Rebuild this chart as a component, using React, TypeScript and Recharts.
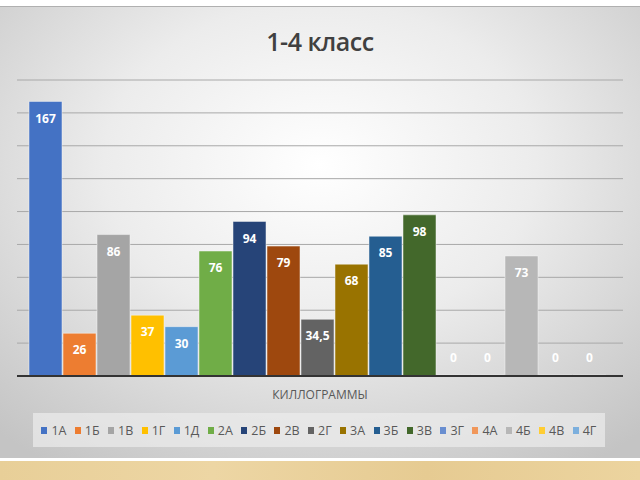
import { BarChart, Bar, XAxis, YAxis, CartesianGrid, LabelList } from "recharts";

const classes = ["1А", "1Б", "1В", "1Г", "1Д", "2А", "2Б", "2В", "2Г", "3А", "3Б", "3В", "3Г", "4А", "4Б", "4В", "4Г"];
const kilograms = [167, 26, 86, 37, 30, 76, 94, 79, 34.5, 68, 85, 98, 0, 0, 73, 0, 0];
const colors = [
  "#4472C4", "#ED7D31", "#A5A5A5", "#FFC000", "#5B9BD5", "#70AD47",
  "#264478", "#9E480E", "#636363", "#997300", "#255E91", "#43682B",
  "#698ED0", "#F1975A", "#B7B7B7", "#FFCD33", "#7CAFDD",
];
const category = "КИЛЛОГРАММЫ";
const yTicks = [0, 20, 40, 60, 80, 100, 120, 140, 160, 180];

const row: Record<string, string | number> = { name: category };
classes.forEach((c, i) => {
  row[c] = kilograms[i];
});
const data = [row];

const renderLabel = (props: any) => {
  const { x, y, width, height, value } = props;
  // zero bars: label sits just above the axis line
  const cy = value === 0 ? y + height - 17 : y + 18;
  return (
    <text
      x={x + width / 2}
      y={cy}
      textAnchor="middle"
      dominantBaseline="middle"
      fill="#ffffff"
      fontSize={12}
      fontWeight="bold"
      fontFamily="'Open Sans', sans-serif"
    >
      {String(value).replace(".", ",")}
    </text>
  );
};

export default function App() {
  return (
    <div
      style={{
        position: "absolute",
        left: 0,
        top: 0,
        width: 640,
        height: 480,
        background: "#ffffff",
        fontFamily: "'Open Sans', sans-serif",
      }}
    >
      <div
        style={{
          position: "absolute",
          left: 0,
          top: 6,
          width: 640,
          height: 452,
          borderTop: "1px solid #b0b0b0",
          boxSizing: "border-box",
          background:
            "radial-gradient(ellipse 75% 80% at 50% 35%, #ffffff 0%, #ececec 45%, #d2d2d2 80%, #c4c4c4 100%)",
        }}
      />
      <div
        style={{
          position: "absolute",
          left: 0,
          top: 461,
          width: 640,
          height: 19,
          background: "linear-gradient(90deg, #e8cf98, #edd6a4, #e6cb92, #ecd49f)",
        }}
      />
      <div
        style={{
          position: "absolute",
          left: 0,
          top: 24,
          width: 640,
          textAlign: "center",
          fontSize: 25,
          fontWeight: 600,
          color: "#404040",
          letterSpacing: -0.5,
        }}
      >
        1-4 класс
      </div>
      <div style={{ position: "absolute", left: 0, top: 0 }}>
        <BarChart
          width={640}
          height={458}
          data={data}
          margin={{ top: 80, right: 17, bottom: 52, left: 17 }}
          barCategoryGap={12}
          barGap={1}
        >
          <CartesianGrid vertical={false} stroke="#a8a8a8" />
          <YAxis hide domain={[0, 180]} ticks={yTicks} />
          {classes.map((c, i) => (
            <Bar
              key={c}
              dataKey={c}
              name={c}
              fill={colors[i]}
              stroke="#f4f4f4"
              strokeWidth={0.5}
              minPointSize={1}
              isAnimationActive={false}
            >
              <LabelList dataKey={c} content={renderLabel} />
            </Bar>
          ))}
          <XAxis
            dataKey="name"
            height={30}
            tickLine={false}
            axisLine={{ stroke: "#333333", strokeWidth: 2 }}
            tick={{ fill: "#595959", fontSize: 12, fontFamily: "'Open Sans', sans-serif" }}
            tickMargin={8}
          />
        </BarChart>
      </div>
      <div
        style={{
          position: "absolute",
          left: 33,
          top: 413,
          width: 572,
          height: 34,
          background: "rgba(236,236,236,0.7)",
          display: "flex",
          alignItems: "center",
          justifyContent: "space-evenly",
          fontSize: 12.5,
          color: "#595959",
        }}
      >
        {classes.map((c, i) => (
          <div key={c} style={{ display: "flex", alignItems: "center" }}>
            <span style={{ display: "inline-block", width: 6, height: 7, background: colors[i], marginRight: 4 }} />
            <span>{c}</span>
          </div>
        ))}
      </div>
    </div>
  );
}
